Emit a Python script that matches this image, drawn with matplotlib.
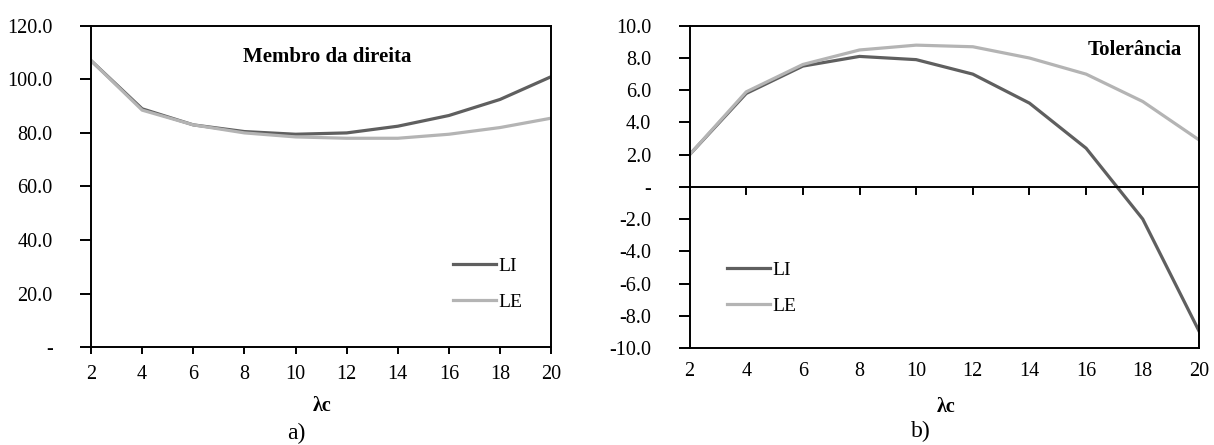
import numpy as np
import matplotlib
matplotlib.use("Agg")
import matplotlib.pyplot as plt

plt.rcParams['font.family'] = ['Liberation Serif', 'DejaVu Serif']

# Data
lam = [2, 4, 6, 8, 10, 12, 14, 16, 18, 20]
dir_LI = [107.0, 89.0, 83.0, 80.5, 79.5, 80.0, 82.5, 86.5, 92.5, 101.0]
dir_LE = [107.0, 88.5, 83.0, 80.0, 78.5, 78.0, 78.0, 79.5, 82.0, 85.5]
tol_LI = [2.0, 5.8, 7.5, 8.1, 7.9, 7.0, 5.2, 2.4, -2.0, -9.0]
tol_LE = [2.0, 5.9, 7.6, 8.5, 8.8, 8.7, 8.0, 7.0, 5.3, 2.9]

c_LI = '#5f5f5f'
c_LE = '#b4b4b4'
fs = 14.5

fig = plt.figure(figsize=(12.14, 4.45), dpi=100)
ax1 = fig.add_axes([0.075, 0.220, 0.379, 0.722])
ax2 = fig.add_axes([0.568, 0.218, 0.420, 0.724])

def fmt(v):
    return '-' if abs(v) < 1e-9 else f'{v:.1f}'

leg_kw = dict(frameon=False, fontsize=14, handlelength=2.2, handletextpad=0.15,
              labelspacing=0.95, borderpad=0, borderaxespad=0)

# a) Membro da direita
ax1.plot(lam, dir_LI, color=c_LI, lw=2.3, label='LI')
ax1.plot(lam, dir_LE, color=c_LE, lw=2.3, label='LE')
ax1.set_xlim(2, 20)
ax1.set_ylim(0, 120)
yt1 = np.arange(0, 121, 20)
ax1.set_yticks(yt1)
ax1.set_yticklabels([fmt(v) for v in yt1])
ax1.set_xticks(lam)
ax1.tick_params(axis='x', length=5, pad=8)
ax1.text(0.514, 0.902, 'Membro da direita', transform=ax1.transAxes, ha='center',
         va='center', fontsize=15, fontweight='bold')
ax1.legend(loc='center left', bbox_to_anchor=(0.787, 0.195), **leg_kw)
fig.text(322 / 1214, 1 - 406 / 445, 'λc', ha='center', va='center',
         fontsize=14.5, fontweight='bold')
fig.text(296 / 1214, 1 - 433 / 445, 'a)', ha='center', va='center', fontsize=17)

# b) Tolerância
ax2.plot(lam, tol_LI, color=c_LI, lw=2.3, label='LI')
ax2.plot(lam, tol_LE, color=c_LE, lw=2.3, label='LE')
ax2.set_xlim(2, 20)
ax2.set_ylim(-10, 10)
yt2 = np.arange(-10, 10.1, 2)
ax2.set_yticks(yt2)
ax2.set_yticklabels([fmt(v) for v in yt2])
ax2.set_xticks(lam)
ax2.tick_params(axis='x', length=0, pad=10)
ax2.axhline(0, color='black', lw=1.4)
for x in lam[1:-1]:
    ax2.plot([x, x], [0, -0.45], color='black', lw=1.4)
ax2.text(0.966, 0.925, 'Tolerância', transform=ax2.transAxes, ha='right',
         va='center', fontsize=15, fontweight='bold')
ax2.legend(loc='center left', bbox_to_anchor=(0.073, 0.185), **leg_kw)
fig.text(946 / 1214, 1 - 407 / 445, 'λc', ha='center', va='center',
         fontsize=14.5, fontweight='bold')
fig.text(921 / 1214, 1 - 431 / 445, 'b)', ha='center', va='center', fontsize=17)

for ax in (ax1, ax2):
    for s in ax.spines.values():
        s.set_linewidth(1.4)
    ax.tick_params(labelsize=fs, width=1.4)
    ax.tick_params(axis='y', length=8, pad=19.5)

fig.savefig('out.png', dpi=100)
